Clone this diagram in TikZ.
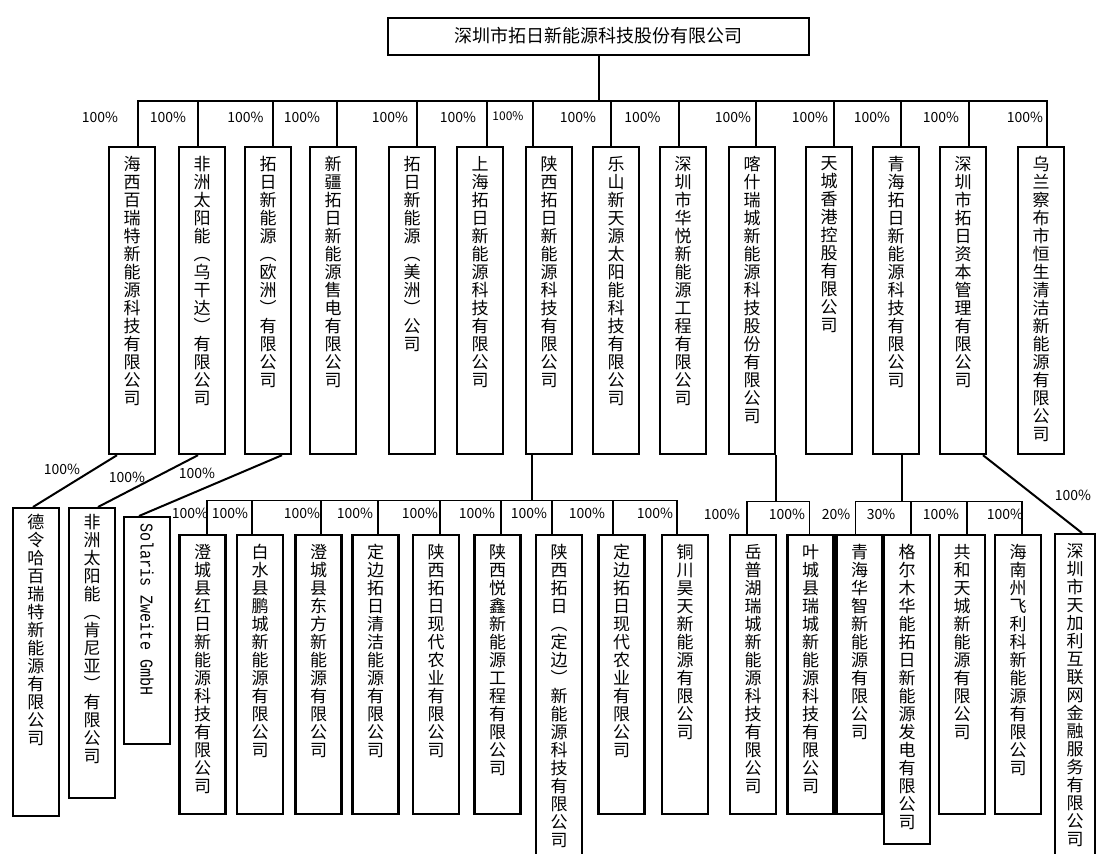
\documentclass[tikz,border=0pt]{standalone}
\usepackage{fontspec}
\setmainfont{Noto Sans CJK SC}
\newfontfamily\latinmono{Liberation Mono}
\usepackage{tikz}

\ExplSyntaxOn
\NewDocumentCommand{\charstack}{m}{\tl_map_inline:nn {#1} {##1\par}}
\ExplSyntaxOff
% vertical company name: [top skip]{box height}{characters}
\newcommand{\firmtext}[3][9pt]{\parbox[c][#2][t]{40pt}{\centering\fontsize{17}{18}\selectfont\vspace*{#1}\charstack{#3}}}

\tikzset{
    headbox/.style={rectangle, draw, line width=2pt, minimum width=421pt, minimum height=37pt,
        text centered, font=\fontsize{18}{20}\selectfont},
    firmbox/.style={rectangle, draw, line width=2.2pt, minimum width=46pt, inner sep=0pt, anchor=north},
    holdline/.style={line width=2pt},
    subline/.style={line width=1.3pt},
    sharelabel/.style={inner sep=0pt, font=\fontsize{14}{14}\selectfont},
}

\begin{document}
\begin{tikzpicture}[x=1pt, y=1pt]
    \useasboundingbox (0,0) rectangle (1096,-854);
    \fill[white] (0,0) rectangle (1096,-854);
    \clip (0,0) rectangle (1096,-854);

    \node[headbox] (tuori) at (598.5,-36) {深圳市拓日新能源科技股份有限公司};

    % first level
    \node[firmbox] (hx) at (132,-146) {\firmtext{307pt}{海西百瑞特新能源科技有限公司}};
    \node[firmbox] (fzu) at (202,-146) {\firmtext{307pt}{非洲太阳能︵乌干达︶有限公司}};
    \node[firmbox] (oz) at (268,-146) {\firmtext{307pt}{拓日新能源︵欧洲︶有限公司}};
    \node[firmbox] (xj) at (333,-146) {\firmtext{307pt}{新疆拓日新能源售电有限公司}};
    \node[firmbox] (mz) at (412,-146) {\firmtext{307pt}{拓日新能源︵美洲︶公司}};
    \node[firmbox] (sh) at (480,-146) {\firmtext{307pt}{上海拓日新能源科技有限公司}};
    \node[firmbox] (sx) at (549,-146) {\firmtext{307pt}{陕西拓日新能源科技有限公司}};
    \node[firmbox] (ls) at (616,-146) {\firmtext{307pt}{乐山新天源太阳能科技有限公司}};
    \node[firmbox] (hy) at (683,-146) {\firmtext{307pt}{深圳市华悦新能源工程有限公司}};
    \node[firmbox] (ks) at (752,-146) {\firmtext{307pt}{喀什瑞城新能源科技股份有限公司}};
    \node[firmbox] (tc) at (829,-146) {\firmtext{307pt}{天城香港控股有限公司}};
    \node[firmbox] (qh) at (896,-146) {\firmtext{307pt}{青海拓日新能源科技有限公司}};
    \node[firmbox] (zb) at (963,-146) {\firmtext{307pt}{深圳市拓日资本管理有限公司}};
    \node[firmbox] (wl) at (1041,-146) {\firmtext{307pt}{乌兰察布市恒生清洁新能源有限公司}};

    \node[sharelabel] (p1) at (100,-117) {100\%};
    \node[sharelabel] (p2) at (168,-117) {100\%};
    \node[sharelabel] (p3) at (245.5,-117) {100\%};
    \node[sharelabel] (p4) at (302,-117) {100\%};
    \node[sharelabel] (p5) at (390,-117) {100\%};
    \node[sharelabel] (p6) at (458,-117) {100\%};
    \node[sharelabel, font=\fontsize{12}{12}\selectfont] (p7) at (508,-116) {100\%};
    \node[sharelabel] (p8) at (578,-117) {100\%};
    \node[sharelabel] (p9) at (642.5,-117) {100\%};
    \node[sharelabel] (p10) at (733,-117) {100\%};
    \node[sharelabel] (p11) at (810,-117) {100\%};
    \node[sharelabel] (p12) at (872,-117) {100\%};
    \node[sharelabel] (p13) at (941,-117) {100\%};
    \node[sharelabel] (p14) at (1025,-117) {100\%};

    % second level, left
    \node[firmbox] (dlh) at (36,-507) {\firmtext[6.5pt]{308pt}{德令哈百瑞特新能源有限公司}};
    \node[firmbox] (fzk) at (92,-507) {\firmtext[6.5pt]{290pt}{非洲太阳能︵肯尼亚︶有限公司}};
    \node[firmbox] (sol) at (147,-516) {\parbox[c][227pt][t]{40pt}{\centering\vspace*{6pt}%
        \rotatebox{-90}{\scalebox{0.84}[1]{\fontsize{18}{18}\latinmono Solaris Zweite GmbH}}}};

    \node[sharelabel] (q1) at (62,-469) {100\%};
    \node[sharelabel] (q2) at (127,-477) {100\%};
    \node[sharelabel] (q3) at (197,-473) {100\%};

    % second level, Shaanxi
    \node[firmbox] (cc1) at (202.5,-534) {\firmtext{279pt}{澄城县红日新能源科技有限公司}};
    \node[firmbox] (bs) at (260,-534) {\firmtext{279pt}{白水县鹏城新能源有限公司}};
    \node[firmbox] (cc2) at (318.5,-534) {\firmtext{279pt}{澄城县东方新能源有限公司}};
    \node[firmbox] (dbq) at (375.5,-534) {\firmtext{279pt}{定边拓日清洁能源有限公司}};
    \node[firmbox] (xd) at (436,-534) {\firmtext{279pt}{陕西拓日现代农业有限公司}};
    \node[firmbox] (yx) at (497.5,-534) {\firmtext{279pt}{陕西悦鑫新能源工程有限公司}};
    \node[firmbox] (dbk) at (559,-534) {\firmtext{346pt}{陕西拓日︵定边︶新能源科技有限公司}};
    \node[firmbox] (dbx) at (621.5,-534) {\firmtext{279pt}{定边拓日现代农业有限公司}};
    \node[firmbox] (tch) at (685,-534) {\firmtext{279pt}{铜川昊天新能源有限公司}};

    \node[sharelabel] (s1) at (190,-513) {100\%};
    \node[sharelabel] (s2) at (230,-513) {100\%};
    \node[sharelabel] (s3) at (302,-513) {100\%};
    \node[sharelabel] (s4) at (355,-513) {100\%};
    \node[sharelabel] (s5) at (420,-513) {100\%};
    \node[sharelabel] (s6) at (477,-513) {100\%};
    \node[sharelabel] (s7) at (529,-513) {100\%};
    \node[sharelabel] (s8) at (587,-513) {100\%};
    \node[sharelabel] (s9) at (655,-513) {100\%};

    % second level, Kashgar and Qinghai
    \node[firmbox] (yph) at (753,-534) {\firmtext{279pt}{岳普湖瑞城新能源科技有限公司}};
    \node[firmbox] (yc) at (810.5,-534) {\firmtext{279pt}{叶城县瑞城新能源科技有限公司}};
    \node[firmbox] (hz) at (859.5,-534) {\firmtext{279pt}{青海华智新能源有限公司}};
    \node[firmbox] (gem) at (907,-534) {\firmtext{309pt}{格尔木华能拓日新能源发电有限公司}};
    \node[firmbox] (ghtc) at (962,-534) {\firmtext{279pt}{共和天城新能源有限公司}};
    \node[firmbox] (hn) at (1018,-534) {\firmtext{279pt}{海南州飞利科新能源有限公司}};
    \node[firmbox, minimum width=38pt] (tjl) at (1075,-533) {\firmtext{347pt}{深圳市天加利互联网金融服务有限公司}};

    \node[sharelabel] (k1) at (722,-514) {100\%};
    \node[sharelabel] (k2) at (787,-514) {100\%};
    \node[sharelabel] (r1) at (836,-514) {20\%};
    \node[sharelabel] (r2) at (881,-514) {30\%};
    \node[sharelabel] (r3) at (941,-514) {100\%};
    \node[sharelabel] (r4) at (1005,-514) {100\%};
    \node[sharelabel] (t1) at (1073,-495) {100\%};

    % holdings of the parent
    \draw[holdline] (tuori.south) -- ++(0,-45) coordinate (hub);
    \draw[holdline] ([xshift=6pt]hx.north) |- (hub);
    \draw[holdline] ([xshift=-4pt]fzu.north) |- (hub);
    \draw[holdline] ([xshift=5pt]oz.north) |- (hub);
    \draw[holdline] ([xshift=4pt]xj.north) |- (hub);
    \draw[holdline] ([xshift=5pt]mz.north) |- (hub);
    \draw[holdline] ([xshift=7pt]sh.north) |- (hub);
    \draw[holdline] ([xshift=-16pt]sx.north) |- (hub);
    \draw[holdline] ([xshift=-5pt]ls.north) |- (hub);
    \draw[holdline] ([xshift=-4pt]hy.north) |- (hub);
    \draw[holdline] ([xshift=4pt]ks.north) |- (hub);
    \draw[holdline] ([xshift=5pt]tc.north) |- (hub);
    \draw[holdline] ([xshift=5pt]qh.north) |- (hub);
    \draw[holdline] ([xshift=6pt]zb.north) |- (hub);
    \draw[holdline] ([xshift=6pt]wl.north) |- (hub);

    % single holdings
    \draw[holdline] ([xshift=-15pt]hx.south) -- ([xshift=-3pt]dlh.north);
    \draw[holdline] ([xshift=-4pt]fzu.south) -- ([xshift=6pt]fzk.north);
    \draw[holdline] ([xshift=14pt]oz.south) -- ([xshift=-8pt]sol.north);
    \draw[holdline] ([xshift=20pt]zb.south) -- ([xshift=7pt]tjl.north);

    % Shaanxi subsidiaries
    \draw[holdline] ([xshift=-17pt]sx.south) -- ++(0,-45) coordinate (sxhub);
    \draw[subline] ([xshift=4.5pt]cc1.north) |- (sxhub);
    \draw[subline] ([xshift=-8pt]bs.north) |- (sxhub);
    \draw[subline] ([xshift=2.5pt]cc2.north) |- (sxhub);
    \draw[subline] ([xshift=2.5pt]dbq.north) |- (sxhub);
    \draw[subline] ([xshift=4pt]xd.north) |- (sxhub);
    \draw[subline] ([xshift=3.5pt]yx.north) |- (sxhub);
    \draw[subline] ([xshift=-7pt]dbk.north) |- (sxhub);
    \draw[subline] ([xshift=-8.5pt]dbx.north) |- (sxhub);
    \draw[subline] ([xshift=-8pt]tch.north) |- (sxhub);

    % Kashgar subsidiaries
    \draw[holdline] (ks.south east) -- ++(0,-46) coordinate (kshub);
    \draw[subline] ([xshift=-6pt]yph.north) |- (kshub);
    \draw[subline] ([xshift=-1pt]yc.north) |- (kshub);

    % Qinghai subsidiaries
    \draw[holdline] ([xshift=6pt]qh.south) -- ++(0,-46) coordinate (qhhub);
    \draw[subline] ([xshift=-4pt]hz.north) |- (qhhub);
    \draw[subline] ([xshift=4pt]gem.north) |- (qhhub);
    \draw[subline] ([xshift=5pt]ghtc.north) |- (qhhub);
    \draw[subline] ([xshift=4pt]hn.north) |- (qhhub);
\end{tikzpicture}
\end{document}
